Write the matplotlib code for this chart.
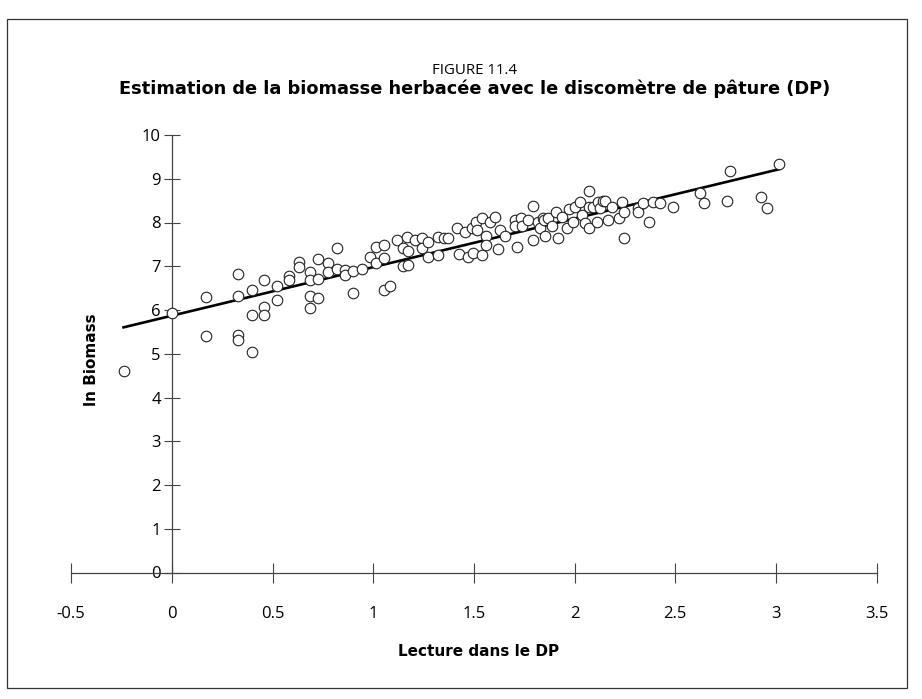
import matplotlib
matplotlib.use("Agg")
import matplotlib.pyplot as plt
import numpy as np

# readings of the DP (x) and ln biomass (y)
dp_reading = [
    -0.24, 0.00, 0.17, 0.17, 0.33, 0.33, 0.33, 0.33, 0.40, 0.40, 0.40,
    0.46, 0.46, 0.46, 0.52, 0.52, 0.58, 0.58, 0.63, 0.63,
    0.686, 0.686, 0.686, 0.686, 0.727, 0.727, 0.727, 0.777, 0.777,
    0.818, 0.818, 0.859, 0.859, 0.90, 0.90, 0.942, 0.984, 1.012, 1.012,
    1.055, 1.055, 1.055, 1.085, 1.118, 1.146, 1.146, 1.17, 1.175, 1.175,
    1.207, 1.24, 1.24, 1.27, 1.27, 1.32, 1.32, 1.35, 1.37,
    1.414, 1.426, 1.456, 1.469, 1.489, 1.497, 1.51, 1.515, 1.539, 1.539,
    1.56, 1.56, 1.58, 1.605, 1.62, 1.63, 1.654, 1.704, 1.704, 1.712,
    1.734, 1.737, 1.77, 1.795, 1.795, 1.82, 1.83, 1.845, 1.85, 1.853,
    1.87, 1.886, 1.91, 1.92, 1.936, 1.96, 1.97, 1.99, 2.0, 2.027, 2.035,
    2.05, 2.07, 2.07, 2.07, 2.09, 2.11, 2.118, 2.126, 2.14, 2.15, 2.167,
    2.185, 2.22, 2.237, 2.247, 2.247, 2.317, 2.317, 2.34, 2.37, 2.39,
    2.424, 2.49, 2.623, 2.644, 2.755, 2.77, 2.924, 2.954, 3.015,
]
ln_biomass = [
    4.60, 5.94, 6.30, 5.41, 6.83, 6.32, 5.42, 5.31, 6.46, 5.89, 5.04,
    6.69, 6.08, 5.89, 6.56, 6.22, 6.78, 6.69, 7.10, 6.98,
    6.88, 6.69, 6.33, 6.04, 7.17, 6.71, 6.27, 7.07, 6.88,
    7.41, 6.94, 6.91, 6.80, 6.89, 6.40, 6.94, 7.22, 7.45, 7.07,
    7.49, 7.19, 6.46, 6.56, 7.60, 7.42, 7.00, 7.68, 7.35, 7.03,
    7.60, 7.64, 7.42, 7.55, 7.22, 7.68, 7.26, 7.64, 7.64,
    7.87, 7.27, 7.78, 7.22, 7.87, 7.30, 8.02, 7.83, 8.10, 7.26,
    7.69, 7.49, 8.02, 8.13, 7.39, 7.83, 7.69, 8.06, 7.91, 7.45,
    8.10, 7.91, 8.06, 8.38, 7.60, 8.02, 7.87, 8.10, 8.06, 7.69,
    8.10, 7.91, 8.25, 7.64, 8.13, 7.87, 8.32, 8.02, 8.36, 8.48, 8.17,
    7.98, 8.72, 8.36, 7.87, 8.36, 8.02, 8.48, 8.33, 8.49, 8.49, 8.06,
    8.36, 8.11, 8.48, 8.25, 7.64, 8.33, 8.25, 8.44, 8.02, 8.48,
    8.44, 8.35, 8.67, 8.44, 8.49, 9.18, 8.58, 8.33, 9.33,
]

# regression line as drawn
fit_intercept = 5.87
fit_slope = 1.11

x_ticks = [-0.5, 0, 0.5, 1, 1.5, 2, 2.5, 3, 3.5]
x_tick_labels = ["-0.5", "0", "0.5", "1", "1.5", "2", "2.5", "3", "3.5"]
y_ticks = list(range(0, 11))

title_1 = "FIGURE 11.4"
title_2 = "Estimation de la biomasse herbacée avec le discomètre de pâture (DP)"
x_label = "Lecture dans le DP"
y_label = "ln Biomass"

plt.rcParams['font.family'] = ['Open Sans', 'DejaVu Sans']
bold_family = ['DejaVu Sans']

W, H = 922, 699
fig = plt.figure(figsize=(W / 100, H / 100), dpi=100)

# outer frame
fig.patches.append(plt.Rectangle((7 / W, 1 - 688 / H), 900 / W, 669 / H,
                                 transform=fig.transFigure, fill=False,
                                 edgecolor="#333333", linewidth=0.9))

ax = fig.add_axes([71.2 / W, 1 - 572.5 / H, 805.4 / W, 437.5 / H])
ax.set_xlim(-0.5, 3.5)
ax.set_ylim(0, 10)

xfit = np.array([min(dp_reading), max(dp_reading)])
ax.plot(xfit, fit_intercept + fit_slope * xfit, color="black", lw=1.9, zorder=2)
ax.plot(dp_reading, ln_biomass, "o", mfc="white", mec="#222222", mew=0.8,
        ms=7.6, zorder=3)

for s in ["top", "right"]:
    ax.spines[s].set_visible(False)
ax.spines["left"].set_position(("data", 0))
ax.spines["bottom"].set_position(("data", 0))
for s in ["left", "bottom"]:
    ax.spines[s].set_color("#444444")
    ax.spines[s].set_linewidth(0.9)

ax.set_xticks(x_ticks)
ax.set_xticklabels(x_tick_labels)
ax.set_yticks(y_ticks)
ax.tick_params(axis="x", direction="inout", length=14, width=0.8,
               color="#444444", pad=17, labelsize=12)
ax.tick_params(axis="y", direction="inout", length=12, width=0.8,
               color="#444444", pad=2, labelsize=12)

fig.text(474 / W, 1 - 70 / H, title_1, ha="center", va="center", fontsize=10.8)
fig.text(474.5 / W, 1 - 89 / H, title_2, ha="center", va="center",
         fontsize=12.8, fontweight="bold", family=bold_family)
fig.text(479 / W, 1 - 651 / H, x_label, ha="center", va="center",
         fontsize=11, fontweight="bold", family=bold_family)
fig.text(91 / W, 1 - 360 / H, y_label, ha="center", va="center",
         fontsize=11, fontweight="bold", family=bold_family, rotation=90)

fig.savefig("out.png", dpi=100, facecolor="white")
